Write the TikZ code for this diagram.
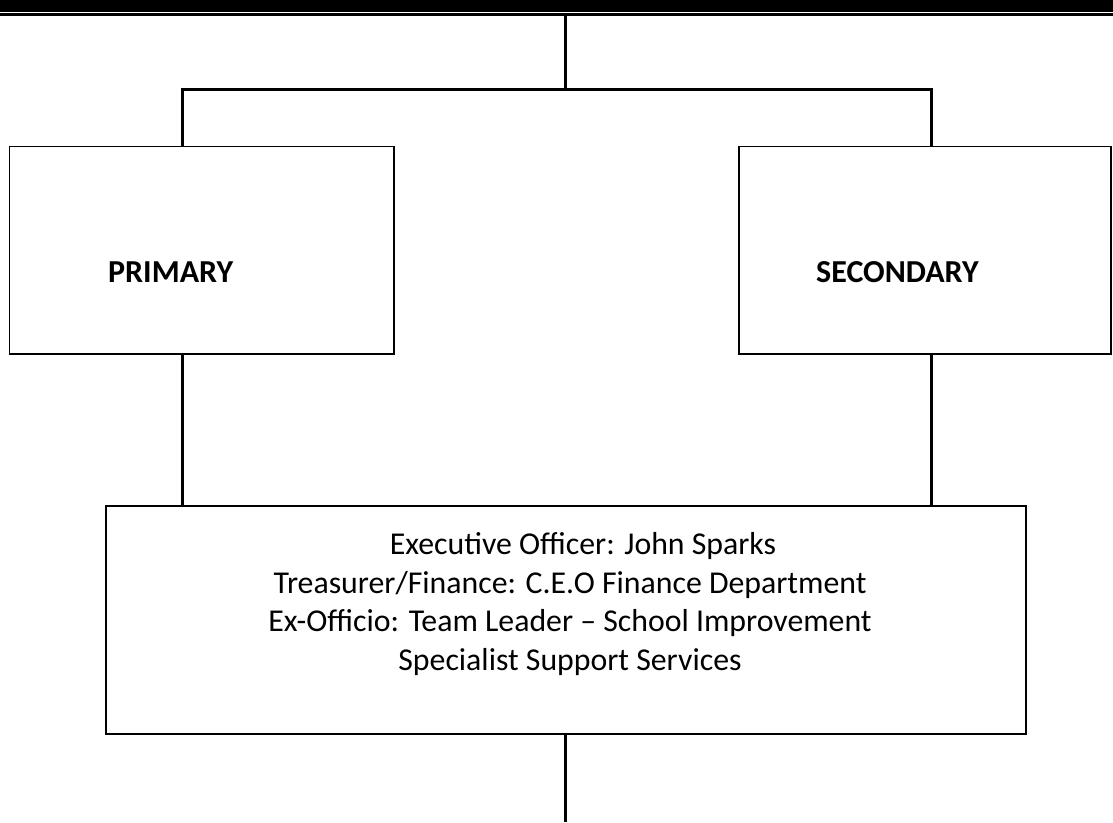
\documentclass[tikz,border=0pt]{standalone}
\usepackage{fontspec}
\setmainfont{Carlito}
\begin{document}
\begin{tikzpicture}[x=1pt,y=-1pt,
  conn/.style={line width=3pt, line join=miter},
  box/.style={draw, line width=1.5pt, inner sep=0pt},
  lbl/.style={font=\fontsize{32}{38.5}\selectfont\bfseries, inner sep=0pt},
  body/.style={font=\fontsize{31.8}{38.5}\selectfont, align=center, inner sep=0pt}]
\useasboundingbox (0,0) rectangle (1113,822);
% top rule
\fill (0,0) rectangle (1113,12);
\fill (0,13.3) rectangle (1113,16.3);
% boxes
\node[box, minimum width=384.7pt, minimum height=207.3pt] (prim) at (201.7,250.3) {};
\node[box, minimum width=372pt, minimum height=207.3pt] (sec) at (925,250.3) {};
\node[box, minimum width=920pt, minimum height=228pt] (exec) at (566,620) {};
% texts
\node[lbl, anchor=base west] (primtxt) at (108,282) {PRIMARY};
\node[lbl, anchor=base west] (sectxt) at (816,282) {SECONDARY};
\node[body, anchor=base] (exectxt) at (570,670) {\hspace*{26pt}Executive Officer: John Sparks\\
Treasurer/Finance: C.E.O Finance Department\\
Ex-Officio: Team Leader – School Improvement\\
Specialist Support Services};
% connectors
\coordinate (top) at (565,14);
\coordinate (bus) at (565,89.5);
\coordinate (L) at (182,89.5);
\coordinate (R) at (931,89.5);
\coordinate (bot) at (565,822);
\draw[conn] (top) -- (bus);
\draw[conn] (prim.north -| L) -- (L) -- (R) -- (sec.north -| R);
\draw[conn] (prim.south -| L) -- (exec.north -| L);
\draw[conn] (sec.south -| R) -- (exec.north -| R);
\draw[conn] (exec.south -| bot) -- (bot);
\end{tikzpicture}
\end{document}
